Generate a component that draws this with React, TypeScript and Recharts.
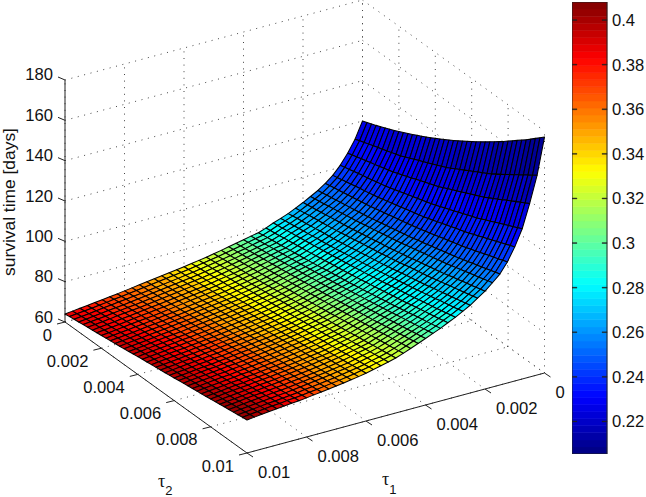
import React from 'react';
import { ScatterChart, ComposedChart, Scatter, XAxis, YAxis, ReferenceArea } from 'recharts';

const zTicks = [60, 80, 100, 120, 140, 160, 180];
const tau1Ticks = [0, 0.002, 0.004, 0.006, 0.008, 0.01];
const tau2Ticks = [0, 0.002, 0.004, 0.006, 0.008, 0.01];
const colorTicks = [0.22, 0.24, 0.26, 0.28, 0.3, 0.32, 0.34, 0.36, 0.38, 0.4];
const colorMin = 0.2054;
const colorMax = 0.4081;

const tau1Grid = [0.01, 0.00975, 0.0095, 0.00925, 0.009, 0.00875, 0.0085, 0.00825, 0.008, 0.00775, 0.0075, 0.00725, 0.007, 0.00675, 0.0065, 0.00625, 0.006, 0.00575, 0.0055, 0.00525, 0.005, 0.00475, 0.0045, 0.00425, 0.004, 0.00375, 0.0035, 0.00325, 0.003, 0.00275, 0.0025, 0.00225, 0.002, 0.00175, 0.0015, 0.00125, 0.001, 0.00075, 0.0005, 0.00025, 0];
const tau2Grid = [0, 0.00025, 0.0005, 0.00075, 0.001, 0.00125, 0.0015, 0.00175, 0.002, 0.00225, 0.0025, 0.00275, 0.003, 0.00325, 0.0035, 0.00375, 0.004, 0.00425, 0.0045, 0.00475, 0.005, 0.00525, 0.0055, 0.00575, 0.006, 0.00625, 0.0065, 0.00675, 0.007, 0.00725, 0.0075, 0.00775, 0.008, 0.00825, 0.0085, 0.00875, 0.009, 0.00925, 0.0095, 0.00975, 0.01];

// survival time in tenths of a day; one row per tau1 value, one column per tau2 value
const survivalTenths = [
  [640,643,646,649,652,655,657,660,663,666,669,672,675,678,681,685,688,691,694,697,700,703,706,709,712,716,719,722,725,728,731,734,738,741,744,748,751,754,757,761,764],
  [644,647,650,653,656,659,661,664,667,670,673,676,679,682,685,689,692,695,698,701,704,707,710,713,716,720,723,726,729,732,735,738,742,745,748,752,755,758,761,765,768],
  [648,651,654,657,660,663,665,668,671,674,677,680,683,686,689,693,696,699,702,705,708,711,714,717,720,724,727,730,733,736,739,742,746,749,752,756,759,762,765,769,772],
  [652,655,658,661,664,667,669,672,675,678,681,684,687,690,693,697,700,703,706,709,712,715,718,721,724,728,731,734,737,740,743,746,750,753,756,760,763,766,769,773,776],
  [657,660,663,666,669,672,674,677,680,683,686,689,692,695,698,701,704,707,710,713,716,719,722,725,728,732,735,738,741,744,747,750,754,757,760,764,767,770,773,777,780],
  [661,664,667,670,673,676,678,681,684,687,690,693,696,699,702,705,707,710,713,716,719,722,725,728,731,735,738,741,744,747,750,753,757,760,763,767,770,773,776,780,783],
  [666,669,672,674,677,680,683,686,688,691,694,697,700,703,706,709,712,715,718,721,724,727,730,733,736,740,743,746,749,752,755,758,762,765,768,771,774,777,780,784,787],
  [670,673,676,678,681,684,687,690,692,695,698,701,704,707,709,712,715,718,721,724,727,730,733,736,739,743,746,749,752,755,758,761,765,768,771,774,777,780,783,787,790],
  [675,678,681,683,686,689,692,695,697,700,703,706,709,712,714,717,720,723,726,729,732,735,738,741,744,747,750,753,756,759,762,765,769,772,775,778,781,784,787,791,794],
  [680,683,685,688,691,694,696,699,702,704,707,710,713,716,719,722,724,727,730,733,737,740,743,746,749,752,755,758,761,764,767,770,774,777,780,783,786,789,793,796,799],
  [685,688,690,693,696,699,701,704,707,709,712,715,718,721,724,727,729,732,735,738,741,744,747,750,753,756,759,762,765,768,771,774,778,781,784,787,790,794,797,800,803],
  [690,693,695,698,701,704,706,709,712,714,717,720,723,726,729,732,734,737,740,743,746,749,752,755,758,761,764,767,770,773,776,779,783,786,789,792,795,799,802,805,808],
  [695,698,700,703,706,709,711,714,717,719,722,725,728,731,734,737,739,742,745,748,751,754,757,760,763,766,769,772,775,778,781,784,788,791,794,797,800,804,807,810,813],
  [700,703,705,708,711,714,716,719,722,724,727,730,733,735,738,741,744,747,749,752,755,758,761,764,767,771,774,777,780,783,786,789,793,796,799,802,805,809,812,815,818],
  [705,708,710,713,716,719,721,724,727,729,732,735,738,741,744,747,749,752,755,758,761,764,767,770,773,777,780,783,786,789,792,795,799,802,805,808,811,815,818,821,824],
  [710,713,715,718,721,724,726,729,732,734,737,740,743,746,749,752,754,757,760,763,766,769,772,775,778,782,785,788,791,794,797,800,804,807,811,814,817,820,824,827,830],
  [715,718,720,723,726,729,731,734,737,739,742,745,748,751,754,757,760,763,766,769,772,775,778,781,784,788,791,794,797,800,803,806,810,813,817,820,823,827,830,834,837],
  [721,724,727,729,732,735,738,741,743,746,749,752,755,758,761,764,766,769,772,775,778,781,784,788,791,795,798,801,804,808,811,814,818,821,825,828,831,835,838,842,845],
  [727,730,733,735,738,741,744,747,749,752,755,758,761,764,767,771,774,777,780,783,786,789,792,796,799,803,806,809,812,816,819,822,826,829,833,837,840,844,847,851,854],
  [733,736,739,742,745,748,750,753,756,759,762,765,768,771,774,778,781,784,787,790,793,796,799,803,806,810,813,816,819,823,826,830,834,837,841,845,848,852,855,859,863],
  [740,743,746,749,752,755,757,760,763,766,769,772,775,779,782,785,788,791,795,798,801,804,808,811,814,818,821,824,828,831,835,839,843,846,850,854,858,861,865,869,873],
  [747,750,753,756,759,762,765,768,771,774,777,780,784,787,790,794,797,800,803,807,810,814,817,821,824,829,832,836,840,843,847,851,855,859,863,867,871,874,878,882,886],
  [755,758,761,764,767,771,774,777,780,783,786,790,793,797,800,804,807,811,814,818,821,825,829,832,836,840,844,847,851,855,859,863,867,871,876,880,884,888,892,896,900],
  [762,765,768,772,775,779,782,785,788,792,795,799,802,806,809,813,817,820,824,827,831,835,839,843,847,851,855,859,863,867,871,875,880,884,889,893,897,902,906,911,915],
  [770,773,777,780,784,787,790,794,797,801,804,808,812,815,819,823,827,830,834,838,842,846,850,854,859,863,867,871,875,880,884,889,893,898,902,907,911,916,921,925,930],
  [778,781,785,788,792,796,799,803,806,810,813,817,821,825,829,833,836,840,844,848,852,856,861,865,869,874,878,883,887,892,896,901,906,911,916,920,925,930,935,940,945],
  [785,789,793,796,800,803,807,811,814,818,821,825,829,833,837,842,846,850,854,858,862,867,871,876,880,885,890,895,900,904,909,914,919,924,930,935,940,945,950,955,960],
  [798,802,805,809,813,816,820,824,828,831,835,839,843,847,852,856,860,864,869,873,877,882,887,891,896,901,906,911,916,920,925,930,936,941,946,952,957,962,967,973,978],
  [813,817,820,824,828,831,835,839,843,846,850,854,858,862,867,871,875,879,884,888,892,897,902,907,912,917,922,927,932,936,941,946,952,957,963,968,973,979,984,990,995],
  [826,830,833,837,841,845,848,852,856,859,863,867,871,876,880,885,889,894,898,903,907,912,917,922,927,933,938,943,948,953,958,964,969,975,980,987,992,998,1003,1009,1015],
  [840,844,848,852,855,859,863,867,871,874,878,882,887,891,896,901,905,910,914,919,923,928,934,939,944,950,955,960,965,971,976,982,988,994,1000,1006,1011,1017,1023,1029,1035],
  [857,861,865,869,873,877,880,884,888,892,896,901,905,910,915,920,924,929,933,938,943,948,954,959,965,971,976,981,987,992,998,1004,1010,1017,1023,1029,1035,1041,1047,1054,1060],
  [875,879,883,887,891,895,899,903,907,911,915,920,925,930,934,939,944,949,953,958,963,969,975,980,986,992,997,1003,1009,1014,1020,1026,1033,1040,1046,1053,1059,1065,1072,1078,1085],
  [895,899,903,907,912,916,920,924,929,933,937,942,947,952,957,963,968,973,978,983,988,994,1000,1006,1012,1018,1024,1030,1036,1042,1048,1055,1062,1069,1075,1083,1089,1096,1103,1110,1117],
  [915,919,924,928,932,937,941,945,949,954,958,963,969,974,980,985,990,996,1001,1007,1012,1018,1025,1031,1037,1044,1050,1057,1063,1070,1076,1083,1091,1098,1106,1113,1120,1128,1135,1143,1150],
  [940,945,950,954,959,964,968,973,978,982,987,993,999,1005,1011,1017,1022,1028,1034,1040,1046,1053,1060,1067,1074,1082,1089,1096,1103,1110,1117,1125,1133,1141,1150,1158,1167,1175,1183,1192,1200],
  [970,975,981,986,991,997,1002,1007,1012,1018,1023,1030,1036,1043,1049,1056,1063,1069,1076,1082,1089,1097,1105,1113,1121,1130,1138,1146,1154,1162,1170,1180,1189,1199,1208,1218,1227,1237,1246,1256,1265],
  [1010,1016,1022,1028,1034,1040,1045,1051,1057,1063,1069,1076,1084,1091,1099,1107,1114,1122,1129,1137,1144,1153,1162,1172,1181,1190,1199,1208,1218,1227,1236,1247,1258,1269,1280,1291,1301,1312,1323,1334,1345],
  [1060,1067,1074,1081,1088,1095,1101,1108,1115,1122,1129,1138,1147,1156,1165,1174,1183,1192,1201,1210,1219,1230,1241,1252,1263,1274,1285,1296,1307,1318,1329,1342,1355,1368,1381,1395,1408,1421,1434,1447,1460],
  [1120,1128,1136,1144,1152,1160,1167,1175,1183,1191,1199,1210,1220,1231,1241,1252,1262,1273,1283,1294,1304,1317,1330,1343,1356,1369,1382,1395,1408,1421,1434,1450,1465,1481,1497,1512,1528,1543,1559,1574,1590],
  [1200,1209,1218,1227,1237,1247,1257,1267,1278,1289,1300,1312,1324,1336,1348,1361,1374,1387,1401,1414,1428,1443,1458,1473,1488,1503,1519,1535,1552,1568,1585,1602,1620,1638,1656,1674,1692,1711,1731,1750,1770],
];

// colour value of each surface cell, in thousandths
const colourMilli = [
  [388,388,389,389,390,390,391,391,391,392,392,393,393,393,394,394,395,395,395,396,396,397,397,397,398,398,399,399,399,400,400,401,401,401,402,402,403,403,404,405],
  [385,385,386,386,387,387,388,388,388,389,389,389,390,390,390,391,391,391,392,392,392,393,393,394,394,394,395,395,396,396,396,397,397,398,398,399,399,400,400,401],
  [382,382,383,383,384,384,384,385,385,385,386,386,386,387,387,387,388,388,388,389,389,389,390,390,390,391,391,391,392,392,393,393,394,394,395,395,396,396,397,397],
  [379,379,380,380,381,381,381,382,382,382,383,383,383,384,384,384,385,385,385,386,386,386,387,387,387,388,388,388,389,389,390,390,391,391,392,392,393,393,394,394],
  [375,375,376,376,377,377,377,378,378,378,379,379,379,380,380,380,381,381,381,382,382,382,383,383,383,384,384,384,385,385,386,386,387,387,388,388,389,389,390,390],
  [372,372,373,373,374,374,374,375,375,375,376,376,376,377,377,377,378,378,378,379,379,379,380,380,380,381,381,381,382,382,383,383,384,384,384,385,385,385,386,386],
  [369,369,370,370,370,371,371,371,372,372,372,373,373,373,373,374,374,374,375,375,375,376,376,376,377,377,377,378,378,378,379,379,379,380,380,380,381,381,382,382],
  [365,365,366,366,366,367,367,367,368,368,368,368,369,369,369,370,370,370,370,371,371,371,372,372,372,372,373,373,373,374,374,375,375,375,376,376,376,377,377,377],
  [362,362,363,363,363,363,364,364,364,364,365,365,365,365,366,366,366,366,367,367,367,367,368,368,368,368,369,369,369,370,370,370,371,371,371,372,372,372,373,373],
  [358,358,359,359,359,359,360,360,360,360,361,361,361,361,362,362,362,362,363,363,363,363,363,364,364,364,364,365,365,365,365,366,366,366,366,367,367,367,368,368],
  [355,355,355,355,356,356,356,356,356,357,357,357,357,357,358,358,358,358,358,359,359,359,359,359,360,360,360,360,360,361,361,361,361,362,362,362,362,362,363,363],
  [351,351,351,352,352,352,352,352,353,353,353,353,353,354,354,354,354,354,354,355,355,355,355,355,356,356,356,356,356,357,357,357,357,358,358,358,358,358,359,359],
  [348,348,348,348,349,349,349,349,349,349,350,350,350,350,350,350,351,351,351,351,351,351,352,352,352,352,352,352,353,353,353,353,353,354,354,354,354,354,355,355],
  [344,344,344,344,345,345,345,345,345,345,346,346,346,346,346,346,347,347,347,347,347,347,348,348,348,348,348,348,349,349,349,349,349,350,350,350,350,350,351,351],
  [341,341,341,341,342,342,342,342,342,342,342,342,343,343,343,343,343,343,343,344,344,344,344,344,344,344,345,345,345,345,345,345,346,346,346,346,346,346,347,347],
  [337,337,337,337,338,338,338,338,338,338,338,338,339,339,339,339,339,339,339,340,340,340,340,340,340,340,341,341,341,341,341,341,342,342,342,342,342,342,343,343],
  [333,333,333,333,333,334,334,334,334,334,334,334,334,335,335,335,335,335,335,335,335,336,336,336,336,336,336,336,337,337,337,337,337,337,337,337,338,338,338,338],
  [328,328,328,328,329,329,329,329,329,329,329,329,330,330,330,330,330,330,330,331,331,331,331,331,331,331,332,332,332,332,332,332,333,333,333,333,333,333,334,334],
  [324,324,324,324,324,325,325,325,325,325,325,325,325,326,326,326,326,326,326,326,326,327,327,327,327,327,327,327,328,328,328,328,328,328,328,328,329,329,329,329],
  [320,320,320,320,320,321,321,321,321,321,321,321,321,322,322,322,322,322,322,322,322,323,323,323,323,323,323,323,324,324,324,324,324,324,324,324,325,325,325,325],
  [315,315,315,315,315,316,316,316,316,316,316,316,316,317,317,317,317,317,317,317,317,318,318,318,318,318,318,318,319,319,319,319,319,319,319,319,320,320,320,320],
  [311,311,311,311,311,311,312,312,312,312,312,312,312,312,312,313,313,313,313,313,313,313,313,313,313,314,314,314,314,314,314,314,314,314,315,315,315,315,315,315],
  [306,306,306,306,306,306,307,307,307,307,307,307,307,307,307,307,308,308,308,308,308,308,308,308,308,308,309,309,309,309,309,309,309,309,309,309,310,310,310,310],
  [301,301,301,301,301,301,301,301,302,302,302,302,302,302,302,302,302,302,302,302,303,303,303,303,303,303,303,303,303,303,303,303,303,304,304,304,304,304,304,304],
  [297,297,297,297,297,297,297,297,297,297,297,297,298,298,298,298,298,298,298,298,298,298,298,298,298,298,298,298,298,298,299,299,299,299,299,299,299,299,299,299],
  [292,292,292,292,292,292,292,292,292,292,292,292,293,293,293,293,293,293,293,293,293,293,293,293,293,293,293,293,293,293,294,294,294,294,294,294,294,294,294,294],
  [287,287,287,287,287,287,287,287,287,287,287,287,288,288,288,288,288,288,288,288,288,288,288,288,288,288,288,288,288,288,289,289,289,289,289,289,289,289,289,289],
  [282,282,282,282,282,282,282,282,283,283,283,283,283,283,283,283,283,283,283,283,284,284,284,284,284,284,284,284,284,284,284,284,284,285,285,285,285,285,285,285],
  [277,277,277,277,277,277,277,277,278,278,278,278,278,278,278,278,278,278,278,278,279,279,279,279,279,279,279,279,279,279,279,279,279,280,280,280,280,280,280,280],
  [273,273,273,273,273,274,274,274,274,274,274,274,274,275,275,275,275,275,275,275,275,276,276,276,276,276,276,276,277,277,277,277,277,277,277,277,278,278,278,278],
  [268,268,268,268,268,269,269,269,269,269,269,269,269,269,269,270,270,270,270,270,270,270,270,270,270,271,271,271,271,271,271,271,271,271,272,272,272,272,272,272],
  [263,263,263,263,263,264,264,264,264,264,264,264,264,264,264,265,265,265,265,265,265,265,265,265,265,266,266,266,266,266,266,266,266,266,267,267,267,267,267,267],
  [259,259,259,259,259,259,259,259,260,260,260,260,260,260,260,260,260,260,260,260,261,261,261,261,261,261,261,261,261,261,261,261,261,262,262,262,262,262,262,262],
  [254,254,254,254,254,254,254,254,254,254,254,254,254,254,254,254,254,254,254,254,254,254,254,254,254,254,254,254,253,253,253,253,253,253,253,253,253,253,253,253],
  [250,250,250,250,250,250,250,250,250,250,250,250,249,249,249,249,249,249,249,249,249,249,249,248,248,248,248,248,248,248,248,248,248,248,247,247,247,247,247,247],
  [245,245,245,245,245,245,245,245,244,244,244,244,244,244,244,244,244,243,243,243,243,243,243,243,243,243,242,242,242,242,242,242,242,242,241,241,241,241,241,241],
  [241,241,241,240,240,240,240,240,240,239,239,239,239,239,239,238,238,238,238,238,237,237,237,237,237,237,236,236,236,236,235,235,235,235,234,234,234,234,233,233],
  [237,237,236,236,236,236,235,235,235,235,234,234,234,234,233,233,233,233,232,232,232,232,231,231,231,231,230,230,230,229,229,229,228,228,228,227,227,227,226,226],
  [232,232,231,231,231,230,230,230,229,229,229,228,228,228,227,227,227,226,226,226,225,225,225,224,224,224,223,223,222,222,222,221,221,220,220,220,219,219,218,218],
  [227,227,226,226,225,225,224,224,224,223,223,222,222,222,221,221,220,220,219,219,219,218,218,217,217,216,216,215,215,214,214,214,213,213,212,212,211,211,210,210],
];

function project(t1: number, t2: number, z: number) {
  const u = (0.01 - t1) / 0.01;
  const t = t2 / 0.01;
  return { x: 65 + 297.5 * u + 182 * t, y: 322 - 80 * u + 131 * t - (z - 60) * 2.0167 };
}

function jet(level: number) {
  const v = (level + 0.5) / 64;
  const ch = (d: number) => Math.round(255 * Math.max(0, Math.min(1, 1.5 - Math.abs(4 * v - d))));
  return `rgb(${ch(3)},${ch(2)},${ch(1)})`;
}
function colourOf(c: number) {
  const lv = Math.max(0, Math.min(63, Math.floor(((c - colorMin) / (colorMax - colorMin)) * 64)));
  return jet(lv);
}

const cells: any[] = [];
for (let i = tau1Grid.length - 2; i >= 0; i--) {
  for (let j = 0; j < tau2Grid.length - 1; j++) {
    const a = project(tau1Grid[i], tau2Grid[j], survivalTenths[i][j] / 10);
    const b = project(tau1Grid[i], tau2Grid[j + 1], survivalTenths[i][j + 1] / 10);
    const c = project(tau1Grid[i + 1], tau2Grid[j + 1], survivalTenths[i + 1][j + 1] / 10);
    const d = project(tau1Grid[i + 1], tau2Grid[j], survivalTenths[i + 1][j] / 10);
    cells.push({ x: a.x, y: a.y, rel: [[0, 0], [b.x - a.x, b.y - a.y], [c.x - a.x, c.y - a.y], [d.x - a.x, d.y - a.y]], fill: colourOf(colourMilli[i][j] / 1000) });
  }
}

const CellShape = (p: any) => (
  <polygon
    points={p.payload.rel.map((r: number[]) => `${p.cx + r[0]},${p.cy + r[1]}`).join(' ')}
    fill={p.payload.fill}
    stroke="#000"
    strokeWidth={1.05}
    strokeLinejoin="round"
  />
);
const NoDot = () => null;
const TextShape = (p: any) => (
  <text x={p.cx + p.payload.dx} y={p.cy + p.payload.dy} textAnchor={p.payload.anchor} dominantBaseline="central" fontSize={16.6} fontFamily="'Liberation Sans', sans-serif" fill="#111">
    {p.payload.text}
  </text>
);

const T1 = 0.01, T2 = 0.01;
const gridSegments: any[][] = [];
zTicks.forEach((z) => {
  gridSegments.push([project(T1, 0, z), project(0, 0, z)]);
  gridSegments.push([project(0, 0, z), project(0, T2, z)]);
});
tau1Ticks.forEach((t) => {
  gridSegments.push([project(t, 0, 60), project(t, 0, 180)]);
  gridSegments.push([project(t, 0, 60), project(t, T2, 60)]);
});
tau2Ticks.forEach((t) => {
  gridSegments.push([project(0, t, 60), project(0, t, 180)]);
  gridSegments.push([project(T1, t, 60), project(0, t, 60)]);
});

const axisSegments: any[][] = [
  [project(T1, 0, 60), project(T1, 0, 180)],
  [project(T1, 0, 60), project(T1, T2, 60)],
  [project(T1, T2, 60), project(0, T2, 60)],
];
const shift = (p: any, dx: number, dy: number) => ({ x: p.x + dx, y: p.y + dy });
zTicks.forEach((z) => { const p = project(T1, 0, z); axisSegments.push([p, shift(p, -7, -3)]); });
tau2Ticks.forEach((t) => { const p = project(T1, t, 60); axisSegments.push([p, shift(p, -8, 2)]); });
tau1Ticks.forEach((t) => { const p = project(t, T2, 60); axisSegments.push([p, shift(p, 6, 4)]); });

const labels: any[] = [
  ...zTicks.map((z) => ({ ...project(T1, 0, z), dx: -12, dy: -5, anchor: 'end', text: String(z) })),
  ...tau2Ticks.map((t) => ({ ...project(T1, t, 60), dx: -13, dy: 13, anchor: 'end', text: String(t) })),
  ...tau1Ticks.map((t) => ({ ...project(t, T2, 60), dx: 11, dy: 19, anchor: 'start', text: String(t) })),
];

const colourBands = Array.from({ length: 64 }, (_, k) => ({
  x: 0.5,
  y1: colorMin + ((colorMax - colorMin) * k) / 64,
  y2: colorMin + ((colorMax - colorMin) * (k + 1)) / 64,
  fill: jet(k),
}));

export default function App() {
  return (
    <div style={{ position: 'absolute', left: 0, top: 0, width: 646, height: 497, background: '#fff', overflow: 'hidden' }}>
      <div style={{ position: 'absolute', left: 0, top: 0 }}>
        <ScatterChart width={646} height={497} margin={{ top: 0, right: 0, bottom: 0, left: 0 }}>
          <XAxis type="number" dataKey="x" domain={[0, 646]} hide />
          <YAxis type="number" dataKey="y" domain={[0, 497]} reversed hide />
          {gridSegments.map((s, k) => (
            <Scatter key={'g' + k} data={s} isAnimationActive={false} shape={NoDot} line={{ stroke: '#444', strokeWidth: 1, strokeDasharray: '1 5.6' }} />
          ))}
          {axisSegments.map((s, k) => (
            <Scatter key={'a' + k} data={s} isAnimationActive={false} shape={NoDot} line={{ stroke: '#222', strokeWidth: 1 }} />
          ))}
          <Scatter data={cells} isAnimationActive={false} shape={CellShape} />
          <Scatter data={labels} isAnimationActive={false} shape={TextShape} />
          <text x={9} y={202} transform="rotate(-90 9 202)" textAnchor="middle" dominantBaseline="central" fontSize={17.4} fontFamily="'Liberation Sans', sans-serif" fill="#111">survival time [days]</text>
          <text x={158} y={487} fontSize={18} fontFamily="'Liberation Serif', serif" fill="#111">τ<tspan dy={8} fontSize={13} fontFamily="'Liberation Sans', sans-serif">2</tspan></text>
          <text x={382} y={485} fontSize={18} fontFamily="'Liberation Serif', serif" fill="#111">τ<tspan dy={9} fontSize={13} fontFamily="'Liberation Sans', sans-serif">1</tspan></text>
        </ScatterChart>
      </div>
      <div style={{ position: 'absolute', left: 572, top: 1.5 }}>
        <ComposedChart width={74} height={452} data={colourBands} margin={{ top: 0, right: 0, bottom: 0, left: 0 }}>
          <XAxis type="number" dataKey="x" domain={[0, 1]} hide />
          <YAxis
            type="number"
            orientation="right"
            domain={[colorMin, colorMax]}
            ticks={colorTicks}
            width={39}
            axisLine={false}
            tickLine={false}
            tickSize={0}
            tickMargin={5}
            interval={0}
            allowDataOverflow
            tick={{ fontSize: 16.6, fontFamily: "'Liberation Sans', sans-serif", fill: '#111' }}
            tickFormatter={(v: number) => String(v)}
          />
          {colourBands.map((b, k) => (
            <ReferenceArea key={k} x1={0} x2={1} y1={b.y1} y2={b.y2} fill={b.fill} fillOpacity={1} stroke={b.fill} strokeWidth={0.6} />
          ))}
          {colorTicks.map((t) => (
            <ReferenceArea key={'l' + t} x1={0} x2={0.14} y1={t - 0.0002} y2={t + 0.0002} fill="#222" fillOpacity={1} stroke="#222" strokeWidth={0.4} />
          ))}
          {colorTicks.map((t) => (
            <ReferenceArea key={'r' + t} x1={0.86} x2={1} y1={t - 0.0002} y2={t + 0.0002} fill="#222" fillOpacity={1} stroke="#222" strokeWidth={0.4} />
          ))}
          <ReferenceArea x1={0} x2={1} y1={colorMin} y2={colorMax} fill="none" stroke="#222" strokeWidth={1} />
        </ComposedChart>
      </div>
    </div>
  );
}
